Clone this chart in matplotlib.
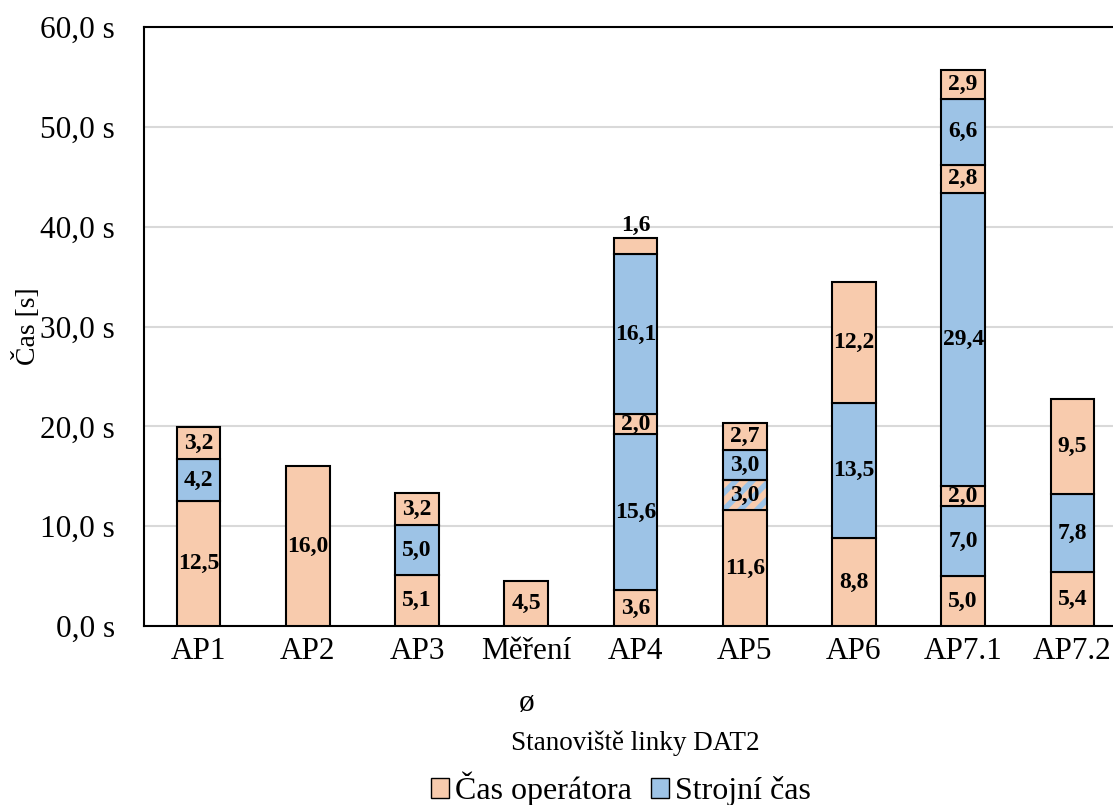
import matplotlib.pyplot as plt
from matplotlib.patches import Patch

plt.rcParams['font.family'] = ['Liberation Serif', 'DejaVu Serif']
plt.rcParams['hatch.linewidth'] = 4

stations = ["AP1", "AP2", "AP3", "Měření\nø", "AP4", "AP5", "AP6", "AP7.1", "AP7.2"]

# segments of each stack from bottom to top: (value, kind)
# kind: "op" = operator time, "m" = machine time, "mix" = both at once
segments = [
    [(12.5, "op"), (4.2, "m"), (3.2, "op")],
    [(16.0, "op")],
    [(5.1, "op"), (5.0, "m"), (3.2, "op")],
    [(4.5, "op")],
    [(3.6, "op"), (15.6, "m"), (2.0, "op"), (16.1, "m"), (1.6, "op")],
    [(11.6, "op"), (3.0, "mix"), (3.0, "m"), (2.7, "op")],
    [(8.8, "op"), (13.5, "m"), (12.2, "op")],
    [(5.0, "op"), (7.0, "m"), (2.0, "op"), (29.4, "m"), (2.8, "op"), (6.6, "m"), (2.9, "op")],
    [(5.4, "op"), (7.8, "m"), (9.5, "op")],
]

op_color = "#f8cbad"
m_color = "#9dc3e6"

fig = plt.figure(figsize=(11.13, 8.05), dpi=100)
ax = fig.add_axes([144 / 1113, 1 - 626 / 805, 983 / 1113, 599 / 805])

width = 0.4
for i, stack in enumerate(segments):
    bottom = 0.0
    for j, (val, kind) in enumerate(stack):
        if kind == "mix":
            ax.bar(i, val, width, bottom=bottom, color=op_color, edgecolor=m_color,
                   hatch="//", linewidth=0, zorder=3)
            ax.bar(i, val, width, bottom=bottom, fill=False, edgecolor="black",
                   linewidth=1.5, zorder=4)
        else:
            ax.bar(i, val, width, bottom=bottom,
                   color=op_color if kind == "op" else m_color,
                   edgecolor="black", linewidth=1.5, zorder=3)
        txt = f"{val:.1f}".replace(".", ",")
        if val < 2.0:
            ax.text(i, bottom + val + 0.2, txt, ha="center", va="bottom",
                    fontsize=17, fontweight="bold", zorder=5)
        else:
            ax.text(i, bottom + val / 2, txt, ha="center", va="center",
                    fontsize=17, fontweight="bold", zorder=5)
        bottom += val

ax.set_xlim(-0.5, len(stations) - 0.5)
ax.set_ylim(0, 60)
ax.set_yticks(range(0, 61, 10))
ax.set_yticklabels([f"{v},0 s" for v in range(0, 61, 10)], fontsize=22.5)
ax.set_xticks(range(len(stations)))
ax.set_xticklabels(stations, fontsize=22.5, linespacing=2.05, va="top")
ax.tick_params(length=0)
ax.tick_params(axis="x", pad=8)
ax.tick_params(axis="y", pad=21)
ax.grid(axis="y", color="#d9d9d9", linewidth=1.5, zorder=0)
for side in ["left", "top", "bottom"]:
    ax.spines[side].set_linewidth(1.5)
ax.spines["right"].set_visible(False)

ax.set_ylabel("Čas [s]", fontsize=20, va="center")
ax.yaxis.set_label_coords(-0.119, 0.5)
ax.set_xlabel("Stanoviště linky DAT2", fontsize=19.5, va="center")
ax.xaxis.set_label_coords(0.5, -0.195)

handles = [Patch(facecolor=op_color, edgecolor="black", label="Čas operátora"),
           Patch(facecolor=m_color, edgecolor="black", label="Strojní čas")]
fig.legend(handles=handles, loc="center", bbox_to_anchor=(621 / 1113, 1 - 789 / 805),
           ncol=2, frameon=False, handlelength=0.55, handleheight=0.55,
           handletextpad=0.2, columnspacing=0.6, borderpad=0, fontsize=23)

fig.savefig("out.png", dpi=100)
